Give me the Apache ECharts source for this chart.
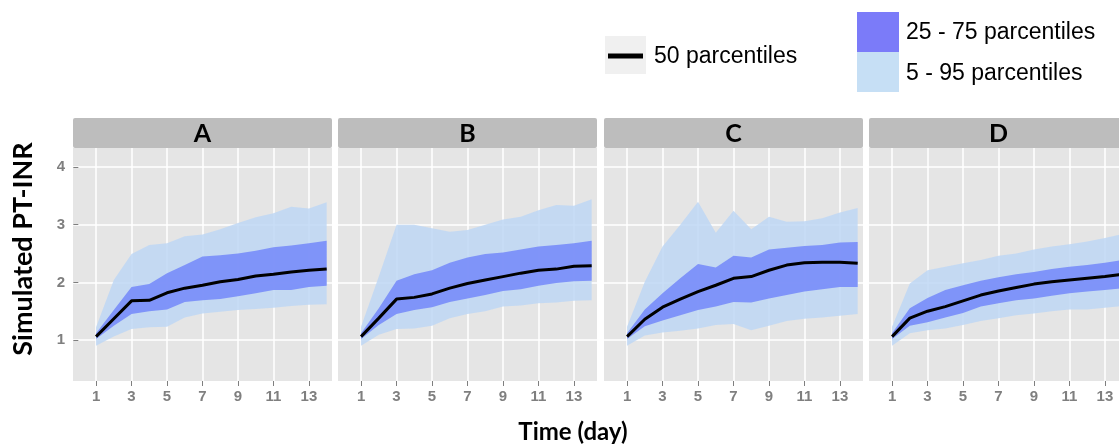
<!DOCTYPE html>
<html>
<head>
<meta charset="utf-8">
<script src="https://cdn.jsdelivr.net/npm/echarts@6/dist/echarts.min.js"></script>
<style>
html,body{margin:0;padding:0;background:#ffffff;overflow:hidden;}
#chart{width:1130px;height:446px;}
</style>
</head>
<body>
<div id="chart"></div>
<script>
// ---- data ----
const days = [1,2,3,4,5,6,7,8,9,10,11,12,13,14];
const panelNames = ['A','B','C','D'];
const xTicks = [1,3,5,7,9,11,13];
const yTicks = [1,2,3,4];
const legendNames = ['50 parcentiles','25 - 75 parcentiles','5 - 95 parcentiles'];

const medA = [1.06,1.37,1.68,1.69,1.82,1.90,1.95,2.01,2.05,2.11,2.14,2.18,2.21,2.23];
const q25A = [1.02,1.25,1.45,1.50,1.53,1.66,1.69,1.71,1.76,1.81,1.87,1.87,1.92,1.94];
const q75A = [1.12,1.52,1.92,1.97,2.16,2.30,2.45,2.47,2.50,2.55,2.61,2.64,2.68,2.72];
const p05A = [0.90,1.06,1.19,1.22,1.23,1.39,1.46,1.49,1.52,1.54,1.56,1.59,1.61,1.62];
const p95A = [1.22,2.04,2.49,2.65,2.68,2.80,2.83,2.92,3.03,3.13,3.20,3.31,3.28,3.39];

const medB = [1.06,1.38,1.71,1.74,1.80,1.90,1.98,2.04,2.10,2.16,2.21,2.23,2.28,2.29];
const q25B = [1.02,1.26,1.45,1.52,1.57,1.66,1.72,1.78,1.85,1.88,1.94,1.99,2.02,2.03];
const q75B = [1.12,1.55,2.03,2.14,2.21,2.34,2.43,2.49,2.52,2.57,2.62,2.65,2.68,2.72];
const p05B = [0.90,1.09,1.19,1.20,1.25,1.38,1.45,1.50,1.58,1.60,1.64,1.65,1.68,1.69];
const p95B = [1.23,2.10,3.00,3.00,2.94,2.88,2.91,3.00,3.09,3.14,3.25,3.34,3.33,3.44];

const medC = [1.06,1.36,1.57,1.71,1.84,1.95,2.07,2.10,2.21,2.30,2.34,2.35,2.35,2.33];
const q25C = [1.02,1.24,1.34,1.43,1.52,1.58,1.66,1.65,1.72,1.78,1.84,1.88,1.92,1.92];
const q75C = [1.12,1.53,1.81,2.07,2.32,2.26,2.46,2.43,2.57,2.60,2.63,2.65,2.69,2.70];
const p05C = [0.90,1.08,1.13,1.16,1.20,1.26,1.28,1.17,1.25,1.33,1.37,1.39,1.42,1.45];
const p95C = [1.23,2.01,2.62,3.00,3.40,2.86,3.24,2.92,3.14,3.05,3.06,3.11,3.21,3.29];

const medD = [1.06,1.38,1.50,1.58,1.68,1.78,1.85,1.91,1.97,2.01,2.04,2.07,2.10,2.14];
const q25D = [1.02,1.25,1.31,1.39,1.47,1.58,1.64,1.69,1.72,1.77,1.81,1.84,1.87,1.90];
const q75D = [1.12,1.55,1.73,1.87,1.95,2.03,2.09,2.14,2.18,2.23,2.27,2.30,2.34,2.39];
const p05D = [0.90,1.12,1.17,1.20,1.26,1.33,1.38,1.43,1.46,1.50,1.53,1.53,1.56,1.59];
const p95D = [1.23,1.98,2.21,2.27,2.33,2.39,2.46,2.50,2.57,2.62,2.66,2.71,2.77,2.84];

const panelData = [
  {med: medA, q25: q25A, q75: q75A, p05: p05A, p95: p95A},
  {med: medB, q25: q25B, q75: q75B, p05: p05B, p95: p95B},
  {med: medC, q25: q25C, q75: q75C, p05: p05C, p95: p95C},
  {med: medD, q25: q25D, q75: q75D, p05: p05D, p95: p95D}
];

// ---- layout / style ----
const panelLeft = [73, 338, 604, 869];
const panelW = 259, panelTop = 148, panelH = 233;
const stripTop = 118, stripH = 30;
const lightBand = 'rgba(190,215,245,0.85)';
const darkBand = 'rgba(110,130,250,0.8)';
const tickGray = '#7f7f7f';
const titleFont = 'Lato, "Open Sans", sans-serif';
const labelFont = '"Liberation Sans", Arial, sans-serif';

const pairs = (ys) => days.map((d, i) => [d, ys[i]]);

// band polygon drawn through the axis scales (api.coord)
function bandSeries(idx, name, lo, hi, color, z) {
  return {
    type: 'custom', name: name, xAxisIndex: idx, yAxisIndex: idx, silent: true, z: z,
    data: days.map((d, i) => [d, lo[i], hi[i]]),
    encode: {x: 0, y: [1, 2]},
    renderItem: function (params, api) {
      if (params.dataIndex !== 0) return null;
      const pts = [];
      for (let i = 0; i < days.length; i++) pts.push(api.coord([days[i], hi[i]]));
      for (let i = days.length - 1; i >= 0; i--) pts.push(api.coord([days[i], lo[i]]));
      return {type: 'polygon', shape: {points: pts}, style: {fill: color, stroke: null}};
    }
  };
}

const grids = [], xAxes = [], yAxes = [], series = [], graphics = [];

panelNames.forEach((name, i) => {
  grids.push({
    left: panelLeft[i], top: panelTop, width: panelW, height: panelH,
    show: true, backgroundColor: '#e5e5e5', borderWidth: 0, containLabel: false
  });
  xAxes.push({
    type: 'value', gridIndex: i, min: -0.3, max: 14.3,
    axisLine: {show: false},
    axisTick: {show: true, customValues: xTicks, length: 5, lineStyle: {color: tickGray, width: 1}},
    axisLabel: {customValues: xTicks, color: tickGray, fontWeight: 'bold', fontSize: 15, fontFamily: labelFont, margin: 8},
    splitLine: {show: true, lineStyle: {color: '#ffffff', width: 1.5}}
  });
  yAxes.push({
    type: 'value', gridIndex: i, min: 0.29, max: 4.33,
    axisLine: {show: false},
    axisTick: {show: i === 0, customValues: yTicks, length: 5, lineStyle: {color: tickGray, width: 1}},
    axisLabel: {show: i === 0, customValues: yTicks, color: tickGray, fontWeight: 'bold', fontSize: 15, fontFamily: labelFont, margin: 8},
    splitLine: {show: true, lineStyle: {color: '#ffffff', width: 1.5}}
  });
  const d = panelData[i];
  series.push(bandSeries(i, legendNames[2], d.p05, d.p95, lightBand, 2));
  series.push(bandSeries(i, legendNames[1], d.q25, d.q75, darkBand, 3));
  series.push({
    type: 'line', name: legendNames[0], xAxisIndex: i, yAxisIndex: i, symbol: 'none', silent: true,
    data: pairs(d.med), lineStyle: {color: '#000000', width: 3}, z: 5
  });

  graphics.push({
    type: 'rect', shape: {x: panelLeft[i], y: stripTop, width: panelW, height: stripH, r: 2},
    style: {fill: '#bdbdbd'}, silent: true
  });
  graphics.push({
    type: 'text', x: panelLeft[i] + panelW / 2, y: stripTop + stripH / 2 + 1,
    style: {text: name, font: 'bold 25px ' + titleFont, fill: '#000', align: 'center', verticalAlign: 'middle'},
    silent: true
  });
});

// axis titles
graphics.push({
  type: 'text', x: 23, y: 249, rotation: Math.PI / 2,
  style: {text: 'Simulated PT-INR', font: 'bold 27px ' + titleFont, fill: '#000', align: 'center', verticalAlign: 'middle'},
  silent: true
});
graphics.push({
  type: 'text', x: 573, y: 432,
  style: {text: 'Time (day)', font: 'bold 24px ' + titleFont, fill: '#000', align: 'center', verticalAlign: 'middle'},
  silent: true
});

// legend
graphics.push({type: 'rect', shape: {x: 605, y: 36, width: 41, height: 38}, style: {fill: '#f0f0f0'}, silent: true});
graphics.push({type: 'line', shape: {x1: 608, y1: 56, x2: 643, y2: 56}, style: {stroke: '#000', lineWidth: 5}, silent: true});
graphics.push({type: 'text', x: 654, y: 57, style: {text: legendNames[0], font: '23px ' + labelFont, fill: '#000', align: 'left', verticalAlign: 'middle'}, silent: true});
graphics.push({type: 'rect', shape: {x: 857, y: 12, width: 42, height: 40}, style: {fill: '#7b7bf9'}, silent: true});
graphics.push({type: 'rect', shape: {x: 857, y: 52, width: 42, height: 40}, style: {fill: '#c6dff5'}, silent: true});
graphics.push({type: 'text', x: 906, y: 33, style: {text: legendNames[1], font: '23px ' + labelFont, fill: '#000', align: 'left', verticalAlign: 'middle'}, silent: true});
graphics.push({type: 'text', x: 906, y: 74, style: {text: legendNames[2], font: '23px ' + labelFont, fill: '#000', align: 'left', verticalAlign: 'middle'}, silent: true});

const chart = echarts.init(document.getElementById('chart'), null, {renderer: 'canvas'});
chart.setOption({
  animation: false,
  backgroundColor: '#ffffff',
  grid: grids,
  xAxis: xAxes,
  yAxis: yAxes,
  series: series,
  graphic: graphics
});
</script>
</body>
</html>
